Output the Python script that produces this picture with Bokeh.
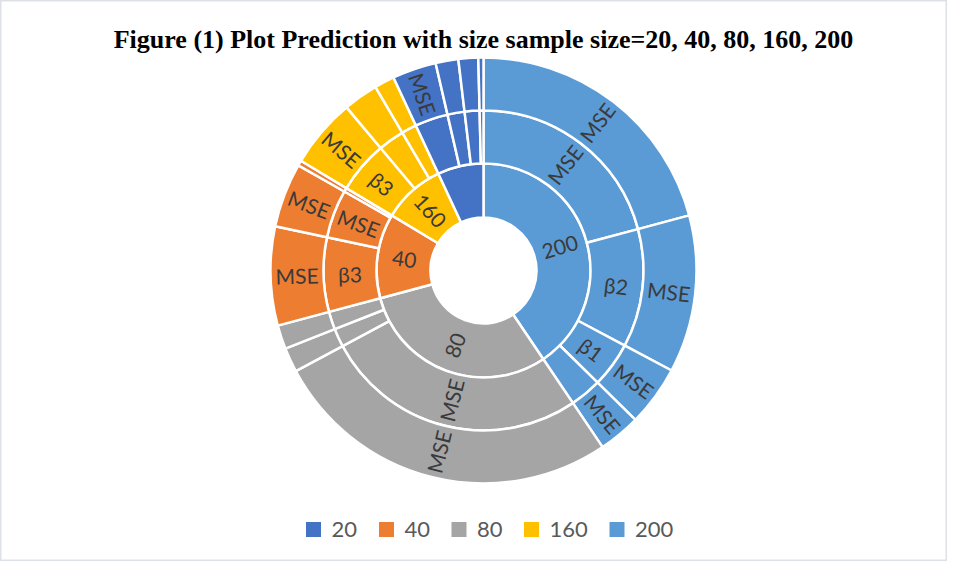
import numpy as np
from bokeh.plotting import figure
from bokeh.models import Range1d, ColumnDataSource
from bokeh.core.properties import value
from bokeh.embed import file_html
from bokeh.resources import INLINE

# ---------------- data ----------------
groups = ["200", "80", "40", "160", "20"]            # clockwise from 12 o'clock
group_labels = ["200", "80", "40", "160", ""]
legend_order = ["20", "40", "80", "160", "200"]
colors = {"20": "#4472C4", "40": "#ED7D31", "80": "#A5A5A5",
          "160": "#FFC000", "200": "#5B9BD5"}

leaf_group = ["200"] * 4 + ["80"] * 3 + ["40"] * 3 + ["160"] * 3 + ["20"] * 4
leaf_value = [75, 43, 16.5, 11.5,
              95.8, 6.7, 6.5,
              27, 17.6, 1.4,
              19, 9.5, 5.5,
              12, 6.2, 5.4, 1.4]
ring2_label = ["MSE", "β2", "β1", "",
               "MSE", "", "",
               "β3", "MSE", "",
               "β3", "", "",
               "", "", "", ""]
ring3_label = ["MSE", "MSE", "MSE", "MSE",
               "MSE", "", "",
               "MSE", "MSE", "",
               "MSE", "", "",
               "MSE", "", "", ""]

title = "Figure (1) Plot Prediction with size sample size=20, 40, 80, 160, 200"

# ---------------- geometry ----------------
W, H = 947, 561
cx, cy = 483, 270
R0, R1, R2, R3 = 53, 107, 160, 213

total = float(sum(leaf_value))
leaf_deg = np.array(leaf_value) / total * 360.0
leaf_end = np.cumsum(leaf_deg)
leaf_start = leaf_end - leaf_deg

grp_val = np.array([sum(v for g, v in zip(leaf_group, leaf_value) if g == gg) for gg in groups])
grp_deg = grp_val / total * 360.0
grp_end = np.cumsum(grp_deg)
grp_start = grp_end - grp_deg


def text_angle(mid):
    return np.where(mid < 180, 90 - mid, 270 - mid)


p = figure(width=W, height=H, output_backend="svg", toolbar_location=None,
           x_range=Range1d(-cx, W - cx), y_range=Range1d(cy - H, cy),
           min_border=0, match_aspect=False)
p.axis.visible = False
p.grid.visible = False
p.outline_line_color = "#dde1e6"
p.outline_line_width = 2
p.background_fill_color = "white"
p.border_fill_color = "white"

# ring 1 (groups)
src1 = ColumnDataSource(dict(
    start=np.radians(90 - grp_end), end=np.radians(90 - grp_start),
    color=[colors[g] for g in groups]))
p.annular_wedge(x=0, y=0, inner_radius=R0, outer_radius=R1,
                start_angle="start", end_angle="end", fill_color="color",
                line_color="white", line_width=2.5, source=src1)

# ring 2 and ring 3 (leaves)
leaf_colors = [colors[g] for g in leaf_group]
for r_in, r_out in [(R1, R2), (R2, R3)]:
    src = ColumnDataSource(dict(
        start=np.radians(90 - leaf_end), end=np.radians(90 - leaf_start),
        color=leaf_colors))
    p.annular_wedge(x=0, y=0, inner_radius=r_in, outer_radius=r_out,
                    start_angle="start", end_angle="end", fill_color="color",
                    line_color="white", line_width=2.5, source=src)

# labels
font = value("Lato")
def add_labels(mids, r, labels):
    th = np.radians(mids)
    src = ColumnDataSource(dict(
        x=r * np.sin(th), y=r * np.cos(th),
        a=np.radians(text_angle(np.array(mids))), t=labels))
    p.text(x="x", y="y", text="t", angle="a", source=src,
           text_align="center", text_baseline="middle",
           text_font=font, text_font_size="21px", text_color="#3a3a3a")

add_labels((grp_start + grp_end) / 2, (R0 + R1) / 2, group_labels)
add_labels((leaf_start + leaf_end) / 2, (R1 + R2) / 2, ring2_label)
add_labels((leaf_start + leaf_end) / 2, (R2 + R3) / 2, ring3_label)

# title
p.text(x=[0], y=[cy - 39], text=[title], text_align="center",
       text_baseline="alphabetic", text_font=value("Liberation Serif"),
       text_font_style="bold", text_font_size="26px", text_color="black")

# legend (manual)
leg_x = [313, 386, 458.5, 531, 616.5]
leg_src = ColumnDataSource(dict(
    x=[v - cx for v in leg_x], y=[cy - 529] * 5,
    tx=[v - cx + 18 for v in leg_x],
    color=[colors[g] for g in legend_order], t=legend_order))
p.rect(x="x", y="y", width=15, height=15, fill_color="color",
       line_color=None, source=leg_src)
p.text(x="tx", y="y", text="t", source=leg_src, text_align="left",
       text_baseline="middle", text_font=font, text_font_size="22px",
       text_color="#595959")

open("out.html", "w").write(file_html(p, INLINE))
